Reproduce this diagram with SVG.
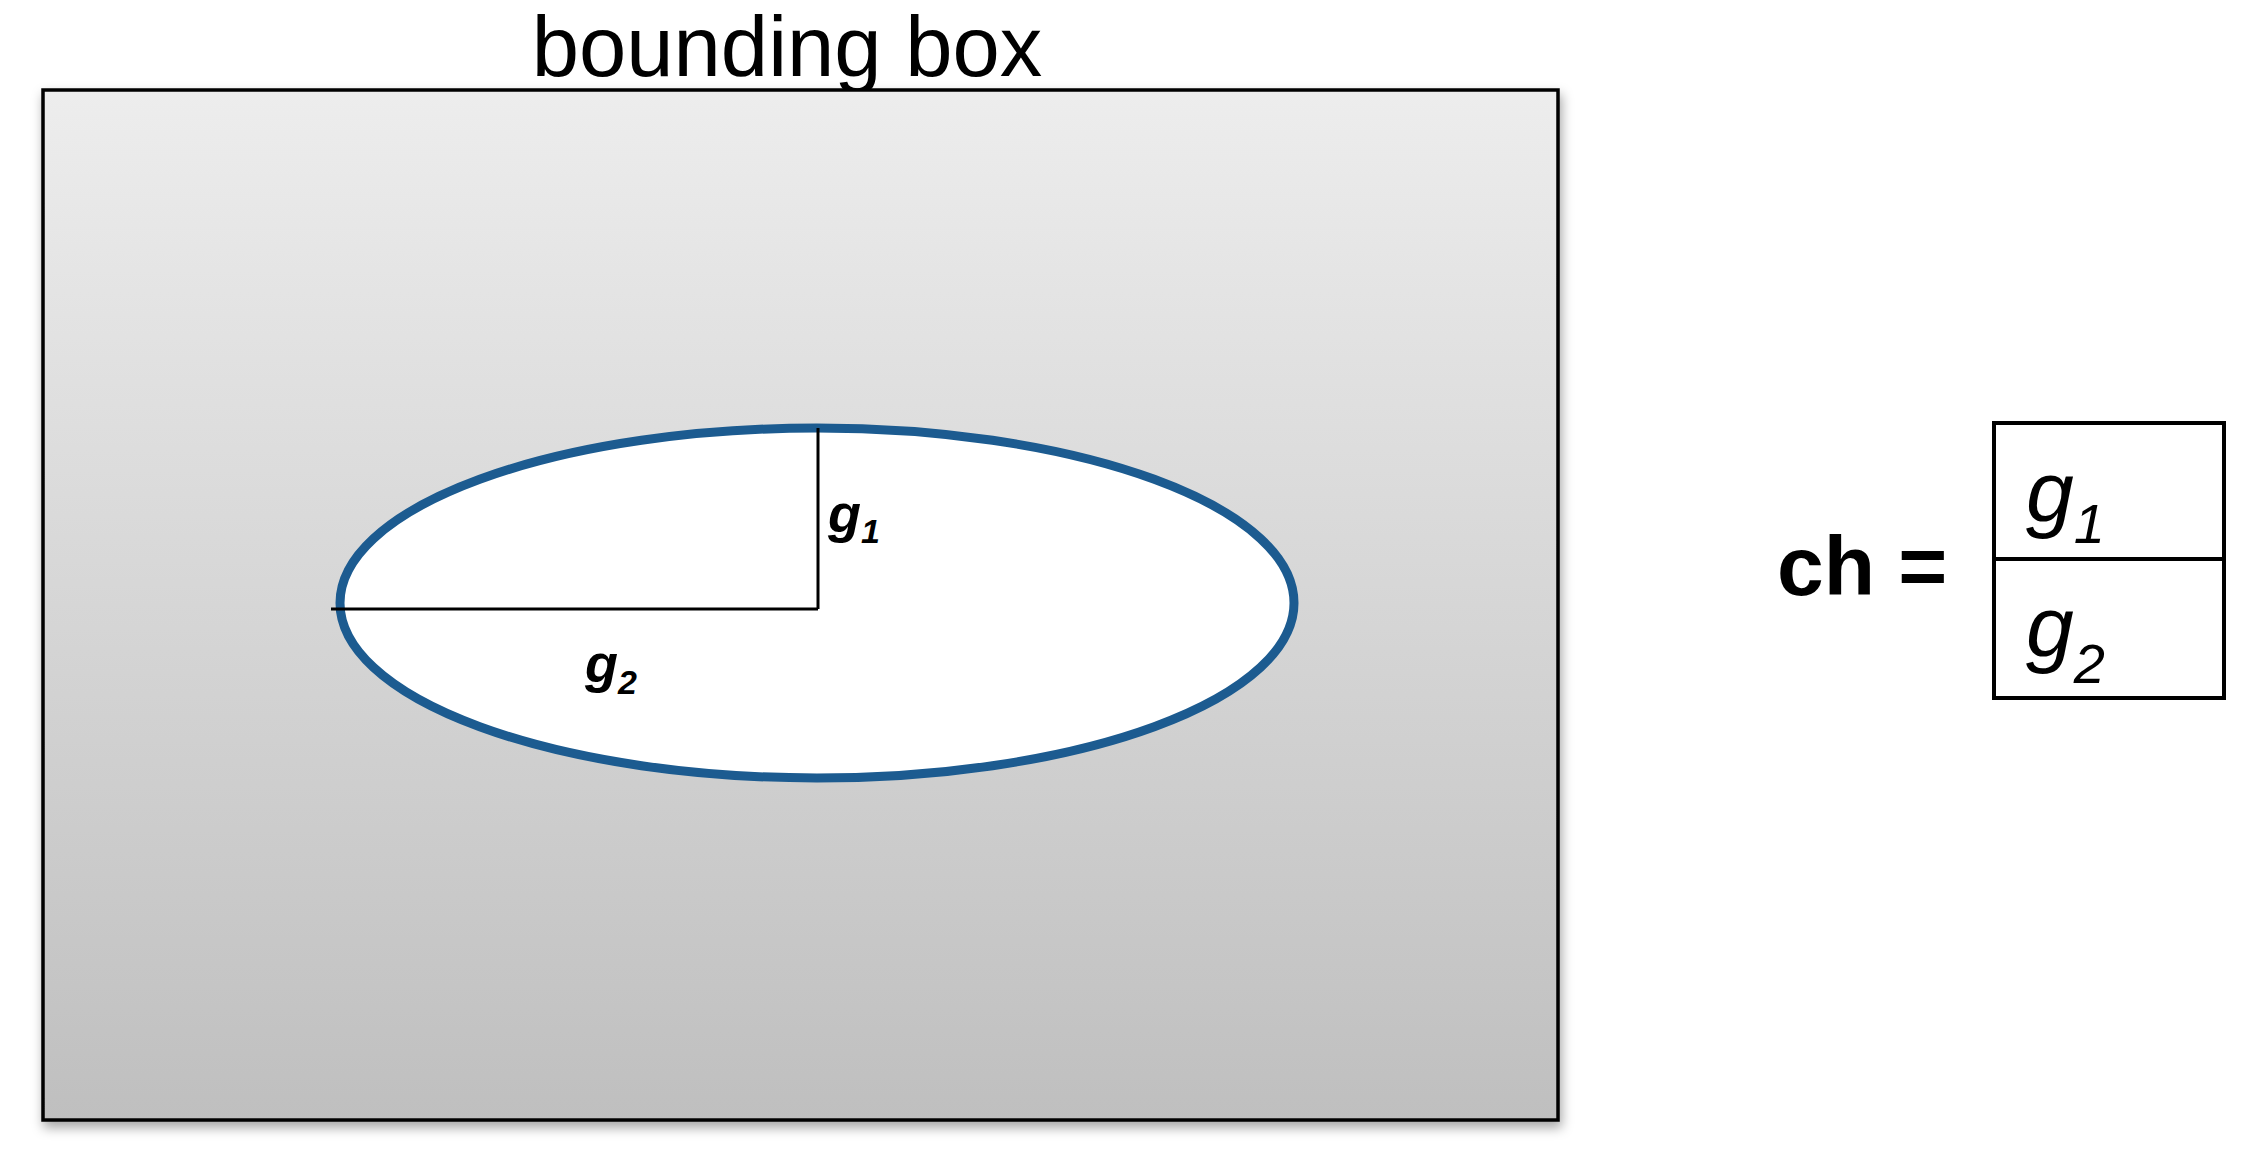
<svg xmlns="http://www.w3.org/2000/svg" width="2266" height="1165" viewBox="0 0 2266 1165">
  <defs>
    <linearGradient id="bg" x1="0" y1="0" x2="0" y2="1">
      <stop offset="0" stop-color="#ededed"/>
      <stop offset="1" stop-color="#bfbfbf"/>
    </linearGradient>
    <filter id="shadow" x="-5%" y="-5%" width="110%" height="110%">
      <feDropShadow dx="2" dy="6" stdDeviation="6" flood-color="#000" flood-opacity="0.35"/>
    </filter>
    <style>
      .lbl { font-family: "Liberation Sans", Arial, sans-serif; fill: #000; }
      .bi { font-weight: bold; font-style: italic; }
      .it { font-style: italic; }
      .line { stroke: #000; stroke-width: 3; fill: none; }
    </style>
  </defs>
  <rect width="2266" height="1165" fill="#fff"/>

  <g id="title">
    <text class="lbl" x="787" y="76" font-size="85" text-anchor="middle">bounding box</text>
  </g>

  <g id="bounding-box">
    <rect x="43" y="90" width="1515" height="1030" fill="url(#bg)" stroke="#000" stroke-width="3.5" filter="url(#shadow)"/>
  </g>

  <g id="ellipse">
    <ellipse cx="817" cy="603" rx="477" ry="175" fill="#fff" stroke="#1c5b90" stroke-width="9"/>
  </g>

  <g id="connectors">
    <line class="line" x1="818" y1="428" x2="818" y2="609"/>
    <line class="line" x1="331" y1="609" x2="818" y2="609"/>
  </g>

  <g id="label-g1">
    <text class="lbl bi" x="828" y="532" font-size="54">g<tspan font-size="34" dy="11">1</tspan></text>
  </g>
  <g id="label-g2">
    <text class="lbl bi" x="585" y="682" font-size="54">g<tspan font-size="34" dy="12">2</tspan></text>
  </g>

  <g id="ch-label">
    <text class="lbl" x="1777" y="595" font-size="84" font-weight="bold">ch =</text>
  </g>

  <g id="vector">
    <rect x="1994" y="423" width="230" height="275" fill="#fff" stroke="#000" stroke-width="4"/>
    <line x1="1994" y1="559" x2="2224" y2="559" stroke="#000" stroke-width="4"/>
    <text class="lbl it" x="2026" y="521" font-size="86">g<tspan font-size="56" dy="22">1</tspan></text>
    <text class="lbl it" x="2026" y="656" font-size="86">g<tspan font-size="56" dy="27">2</tspan></text>
  </g>
</svg>
